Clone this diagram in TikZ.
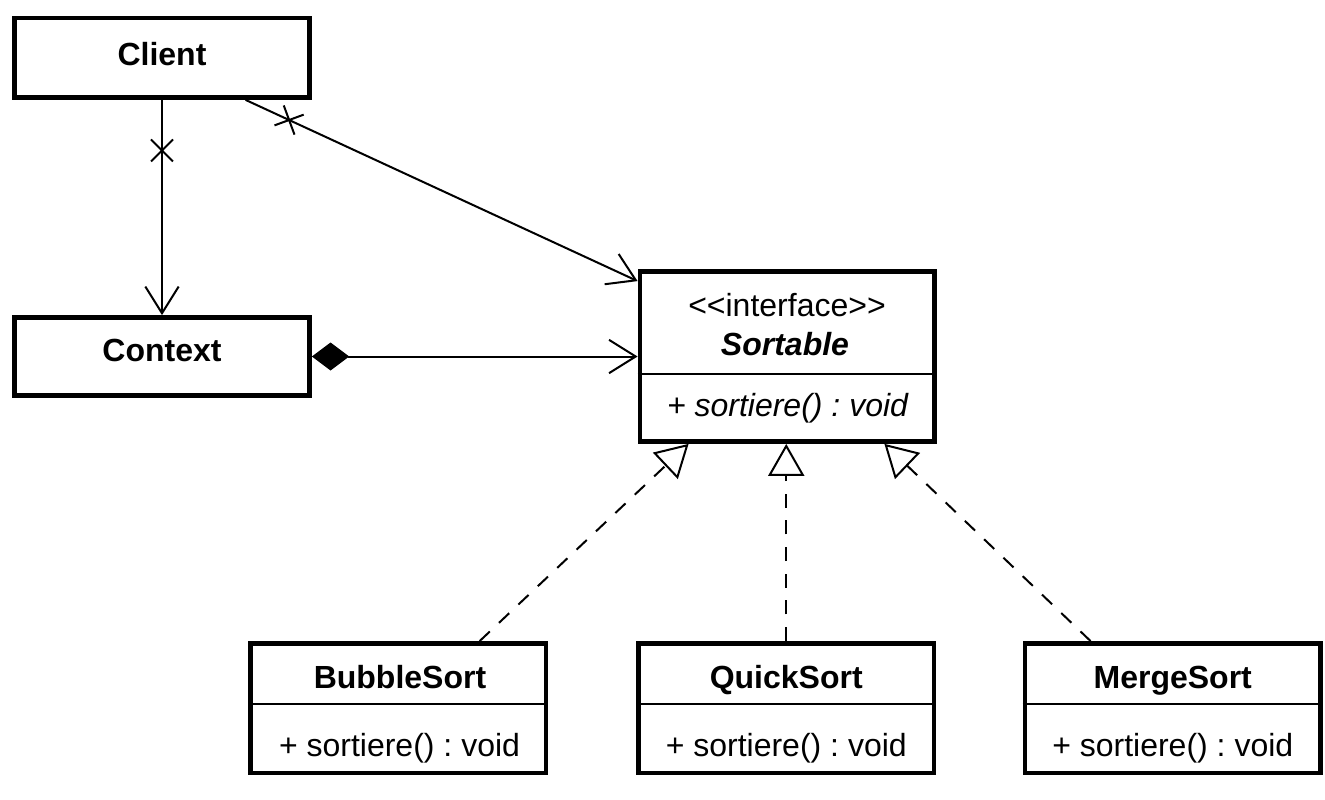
\documentclass[tikz,border=0pt]{standalone}
\usepackage{fontspec}
\setmainfont{Liberation Sans}
\usetikzlibrary{arrows.meta,shapes.misc,calc}
\frenchspacing
\begin{document}
\begin{tikzpicture}[x=0.75pt,y=-0.75pt,
  cls/.style={draw, line width=3.6pt, inner sep=0pt, rectangle},
  title/.style={inner sep=0pt, anchor=base, font=\fontsize{24pt}{28pt}\selectfont\bfseries},
  plain/.style={inner sep=0pt, anchor=base, font=\fontsize{24pt}{28pt}\selectfont},
  ital/.style={inner sep=0pt, anchor=base, font=\fontsize{24pt}{28pt}\selectfont\itshape},
  bital/.style={inner sep=0pt, anchor=base, font=\fontsize{24pt}{28pt}\selectfont\bfseries\itshape},
  conn/.style={line width=1.5pt},
  divider/.style={line width=1.5pt},
  openarrow/.style={-{Straight Barb[length=20pt,width=25pt]}},
  xmark/.style={cross out, draw, sloped, inner sep=0pt, minimum size=15pt, line width=1.5pt},
  real/.style={line width=1.5pt, dash pattern=on 10.5pt off 9.5pt, -{Triangle[open,length=24pt,width=27pt]}}
]
\useasboundingbox (0,0) rectangle (1325,800);
\fill[white] (0,0) rectangle (1325,800);

% class boxes
\node[cls, minimum width=221.25pt, minimum height=59.625pt] (client) at (162,57.75) {};
\node[title] (clientT) at (162,65) {Client};

\node[cls, minimum width=221.25pt, minimum height=58.5pt] (context) at (162,356.5) {};
\node[title] (contextT) at (162,361.5) {Context};

\node[cls, minimum width=220.9pt, minimum height=127.5pt] (iface) at (787.25,356.5) {};
\node[plain] (ifaceS) at (787,316.5) {<\kern0pt<interface>\kern0pt>};
\node[bital] (ifaceT) at (785,355) {Sortable};
\node[ital] (ifaceM) at (787.5,416) {+ sortiere() : void};
\draw[divider] (iface.west |- 0,374) -- (iface.east |- 0,374);

\node[cls, minimum width=221.6pt, minimum height=97.1pt] (bubble) at (398.25,708.25) {};
\node[title] (bubbleT) at (400,688) {BubbleSort};
\node[plain] (bubbleM) at (399.5,756.5) {+ sortiere() : void};
\draw[divider] (bubble.west |- 0,704) -- (bubble.east |- 0,704);

\node[cls, minimum width=221.6pt, minimum height=97.1pt] (quick) at (786.25,708.25) {};
\node[title] (quickT) at (786.25,688) {QuickSort};
\node[plain] (quickM) at (786.25,756.5) {+ sortiere() : void};
\draw[divider] (quick.west |- 0,704) -- (quick.east |- 0,704);

\node[cls, minimum width=221.6pt, minimum height=97.1pt] (merge) at (1172.75,708.25) {};
\node[title] (mergeT) at (1172.75,688) {MergeSort};
\node[plain] (mergeM) at (1172.75,756.5) {+ sortiere() : void};
\draw[divider] (merge.west |- 0,704) -- (merge.east |- 0,704);

% associations
\draw[conn, openarrow] (client.south) -- node[xmark, pos=0.235] {} (context.north);
\draw[conn, openarrow] ($(client.south west)+(233.5,0)$) -- node[xmark, pos=0.111] {} ($(iface.north west)+(0,12)$);
\draw[conn, {Diamond[length=28pt,width=21pt]}-{Straight Barb[length=20pt,width=25pt]}] (context.east) -- (context.east -| iface.west);

% realizations
\draw[real] ($(bubble.north west)+(231.5,0)$) -- ($(iface.south west)+(51,0)$);
\draw[real] (quick.north) -- (quick.north |- iface.south);
\draw[real] ($(merge.north west)+(68,0)$) -- ($(iface.south east)+(-52.5,0)$);
\end{tikzpicture}
\end{document}
